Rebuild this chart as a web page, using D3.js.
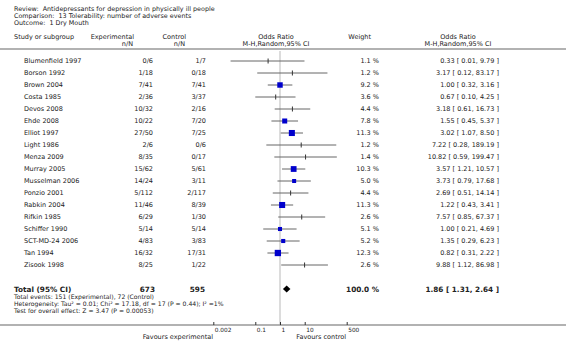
<!DOCTYPE html>
<html><head><meta charset="utf-8">
<script src="https://cdn.jsdelivr.net/npm/d3@7"></script>
<style>
html,body{margin:0;padding:0;background:#fff;}
text{font-family:"DejaVu Sans",Verdana,sans-serif;fill:#222;white-space:pre;}
</style></head>
<body><svg id="c" width="566" height="349"></svg>
<script>
const titleLines = ["Review:  Antidepressants for depression in physically ill people",
  "Comparison:  13 Tolerability: number of adverse events",
  "Outcome:  1 Dry Mouth"];
const studies = ["Blumenfield 1997","Borson 1992","Brown 2004","Costa 1985","Devos 2008","Ehde 2008","Elliot 1997","Light 1986","Menza 2009","Murray 2005","Musselman 2006","Ponzio 2001","Rabkin 2004","Rifkin 1985","Schiffer 1990","SCT-MD-24 2006","Tan 1994","Zisook 1998"];
const expNN = ["0/6","1/18","7/41","2/36","10/32","10/22","27/50","2/6","8/35","15/62","14/24","5/112","11/46","6/29","5/14","4/83","16/32","8/25"];
const ctrlNN = ["1/7","0/18","7/41","3/37","2/16","7/20","7/25","0/6","0/17","5/61","3/11","2/117","8/39","1/30","5/14","3/83","17/31","1/22"];
const weights = [1.1,1.2,9.2,3.6,4.4,7.8,11.3,1.2,1.4,10.3,5.0,4.4,11.3,2.6,5.1,5.2,12.3,2.6];
const orVals = [0.33,3.17,1.00,0.67,3.18,1.55,3.02,7.22,10.82,3.57,3.73,2.69,1.22,7.57,1.00,1.35,0.82,9.88];
const ciLow = [0.01,0.12,0.32,0.10,0.61,0.45,1.07,0.28,0.59,1.21,0.79,0.51,0.43,0.85,0.21,0.29,0.31,1.12];
const ciHigh = [9.79,83.17,3.16,4.25,16.73,5.37,8.50,189.19,199.47,10.57,17.68,14.14,3.41,67.37,4.69,6.23,2.22,86.98];
const totalExp = "673", totalCtrl = "595", totalWeight = "100.0 %";
const totalOR = 1.86, totalLow = 1.31, totalHigh = 2.64;
const footLines = ["Total events: 151 (Experimental), 72 (Control)",
  "Heterogeneity: Tau\u00b2 = 0.01; Chi\u00b2 = 17.18, df = 17 (P = 0.44); I\u00b2 =1%",
  "Test for overall effect: Z = 3.47 (P = 0.00053)"];
const tickVals = [0.002, 0.1, 1, 10, 500];
const tickLabels = ["0.002","0.1","1","10","500"];
const favLeft = "Favours experimental", favRight = "Favours control";

const svg = d3.select("#c");
const fs = 6.5;
const f2 = v => v.toFixed(2);
const x = d3.scaleLog().domain([0.002, 500]).range([213.3, 346.7]);
const y = d3.scaleBand().domain(d3.range(studies.length)).range([55, 55 + 12*studies.length]);
const yc = i => y(i) + y.bandwidth()/2;

// titles
svg.selectAll("text.title").data(titleLines).join("text").attr("class","title")
  .attr("x",14).attr("y",(d,i)=>11+i*7).attr("font-size",6.4).text(d=>d);

// header
const hdr = [
  {t:"Study or subgroup",x:14,y:39,a:"start"},
  {t:"Experimental",x:134,y:39,a:"end"},{t:"n/N",x:133,y:46,a:"end"},
  {t:"Control",x:186,y:39,a:"end"},{t:"n/N",x:185,y:46,a:"end"},
  {t:"Odds Ratio",x:276,y:39,a:"middle"},{t:"M-H,Random,95% CI",x:276,y:46,a:"middle"},
  {t:"Weight",x:371,y:39,a:"end"},
  {t:"Odds Ratio",x:458,y:39,a:"middle"},{t:"M-H,Random,95% CI",x:458,y:46,a:"middle"}];
svg.selectAll("text.hdr").data(hdr).join("text").attr("class","hdr")
  .attr("x",d=>d.x).attr("y",d=>d.y).attr("text-anchor",d=>d.a).attr("font-size",fs).text(d=>d.t);

svg.append("line").attr("x1",0).attr("x2",566).attr("y1",49).attr("y2",49)
  .attr("stroke","#999").attr("stroke-width",1.5);

// null line
svg.append("line").attr("x1",x(1)).attr("x2",x(1)).attr("y1",51).attr("y2",325)
  .attr("stroke","#d4d4d4").attr("stroke-width",1.6);

const rows = svg.selectAll("g.row").data(studies).join("g").attr("class","row");
rows.append("text").attr("x",24).attr("y",(d,i)=>yc(i)+2.3).attr("font-size",fs).text(d=>d);
rows.append("text").attr("x",153).attr("y",(d,i)=>yc(i)+2.3).attr("font-size",fs).attr("text-anchor","end").text((d,i)=>expNN[i]);
rows.append("text").attr("x",206).attr("y",(d,i)=>yc(i)+2.3).attr("font-size",fs).attr("text-anchor","end").text((d,i)=>ctrlNN[i]);
rows.append("text").attr("x",379).attr("y",(d,i)=>yc(i)+2.3).attr("font-size",fs).attr("text-anchor","end").text((d,i)=>weights[i].toFixed(1)+" %");
rows.append("text").attr("x",499).attr("y",(d,i)=>yc(i)+2.3).attr("font-size",fs).attr("text-anchor","end")
  .text((d,i)=>f2(orVals[i])+" [ "+f2(ciLow[i])+", "+f2(ciHigh[i])+" ]");
rows.append("line").attr("x1",(d,i)=>x(ciLow[i])).attr("x2",(d,i)=>x(ciHigh[i]))
  .attr("y1",(d,i)=>yc(i)).attr("y2",(d,i)=>yc(i)).attr("stroke","#666").attr("stroke-width",1);
rows.each(function(d,i){
  const g = d3.select(this);
  const s = 1.8*Math.sqrt(weights[i]);
  if (s < 4) {
    g.append("line").attr("x1",x(orVals[i])).attr("x2",x(orVals[i])).attr("y1",yc(i)-2.5).attr("y2",yc(i)+2.5)
      .attr("stroke","#333").attr("stroke-width",1);
  } else {
    g.append("rect").attr("x",x(orVals[i])-s/2).attr("y",yc(i)-s/2).attr("width",s).attr("height",s).attr("fill","#0000cc");
  }
});

// total
const ty = 289;
const tfs = 7.3;
svg.append("text").attr("x",14).attr("y",ty+2.5).attr("font-size",tfs).attr("font-weight","bold").text("Total (95% CI)");
svg.append("text").attr("x",155).attr("y",ty+2.5).attr("font-size",tfs).attr("font-weight","bold").attr("text-anchor","end").text(totalExp);
svg.append("text").attr("x",205).attr("y",ty+2.5).attr("font-size",tfs).attr("font-weight","bold").attr("text-anchor","end").text(totalCtrl);
svg.append("text").attr("x",379).attr("y",ty+2.5).attr("font-size",tfs).attr("font-weight","bold").attr("text-anchor","end").text(totalWeight);
svg.append("text").attr("x",499).attr("y",ty+2.5).attr("font-size",tfs).attr("font-weight","bold").attr("text-anchor","end")
  .text(f2(totalOR)+" [ "+f2(totalLow)+", "+f2(totalHigh)+" ]");
svg.append("path").attr("d",`M${x(totalLow)},${ty} L${x(totalOR)},${ty-3.5} L${x(totalHigh)},${ty} L${x(totalOR)},${ty+3.5} Z`).attr("fill","#000");

svg.selectAll("text.foot").data(footLines).join("text").attr("class","foot")
  .attr("x",14).attr("y",(d,i)=>299+i*7).attr("font-size",6.1).text(d=>d);

// axis
svg.append("line").attr("x1",0).attr("x2",566).attr("y1",325).attr("y2",325).attr("stroke","#999").attr("stroke-width",1.5);
const ax = svg.append("g").attr("transform","translate(0,325)")
  .call(d3.axisBottom(x).tickValues(tickVals).tickFormat((d,i)=>tickLabels[i]).tickSizeInner(-3).tickSizeOuter(0).tickPadding(3));
ax.select(".domain").remove();
ax.selectAll(".tick line").attr("stroke","#333");
ax.selectAll(".tick text").attr("font-size",5.8).attr("text-anchor","start").attr("x",1).attr("fill","#222")
  .style("font-family","'DejaVu Sans',sans-serif");
svg.append("text").attr("x",213).attr("y",339).attr("font-size",fs).attr("text-anchor","end").text(favLeft);
svg.append("text").attr("x",346).attr("y",339).attr("font-size",fs).attr("text-anchor","end").text(favRight);
</script></body></html>
